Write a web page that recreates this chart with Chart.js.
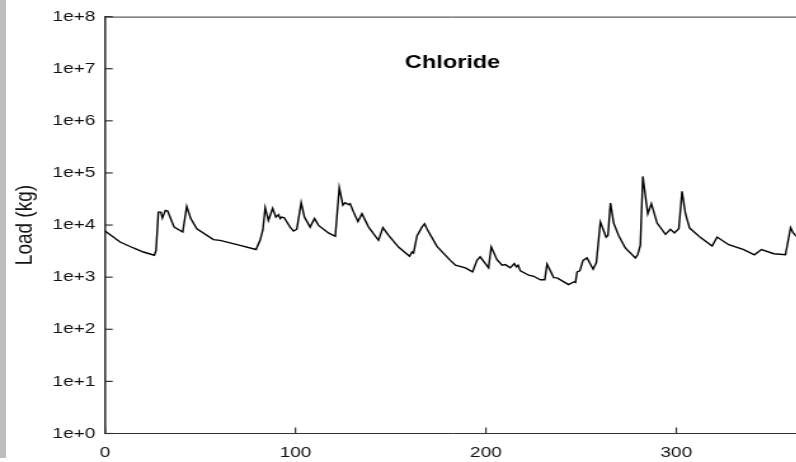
<!DOCTYPE html>
<html>
<head>
<meta charset="utf-8">
<script src="https://cdn.jsdelivr.net/npm/chart.js@4/dist/chart.umd.min.js"></script>
<style>
    html, body { margin: 0; padding: 0; background: #fff; overflow: hidden; }
    body { width: 796px; height: 462px; position: relative; }
    #stretch { position: absolute; left: 0; top: 0; width: 630px; height: 462px; transform: scaleX(1.27); transform-origin: 0 0; }
    #sidebar { position: absolute; left: 0; top: 0; width: 6px; height: 458px; background: #bdbdbd; z-index: 2; }
</style>
</head>
<body>
<div id="sidebar"></div>
<div id="stretch"><canvas id="loadChart" width="630" height="462"></canvas></div>
<script>
const chartTitle = "Chloride";
const yAxisTitle = "Load (kg)";

// day of year
const days = [0, 7.9, 14.9, 20.1, 25.9, 26.8, 28, 29.4, 30.1, 31.7, 32.9, 34.7, 36.3, 40.8, 42.9, 45, 48.2, 56.9, 60.4, 70.9,
    79.3, 81.4, 82.9, 84.1, 85.8, 88, 89.7, 91.1, 92, 92.8, 94.1, 97.2, 99, 100.7, 103, 104.7, 107.7, 110, 112.1, 117.3,
    120.9, 123, 124.9, 126.1, 127.9, 128.7, 130.5, 132.8, 134.9, 138.4, 143.6, 145.9, 148.9, 154.1, 159.9, 161.2, 162, 163.8, 166.4, 167.8,
    169, 174.3, 181.3, 184, 189.2, 193, 195.3, 197, 201.4, 202.8, 205.8, 208.5, 210.2, 212.8, 214.9, 216, 216.9, 218.1, 222.5, 225.1,
    228.6, 230.9, 232.1, 235.6, 237.4, 243.4, 246.1, 247, 247.9, 249.3, 251, 253.1, 256.3, 258, 260.1, 263.1, 264.1, 265.4, 267.1, 269.7,
    273.2, 278.5, 279.7, 281.1, 282.4, 285, 286.9, 289.9, 294.3, 296.9, 299, 301.3, 303, 304.8, 307, 312.7, 318.8, 321.4, 327.5, 335.4,
    341, 344.7, 351.2, 357.3, 360, 361.4, 363.1];

// chloride load, kg
const loads = [7700, 4720, 3630, 3040, 2630, 3270, 17700, 17700, 13600, 19100, 18600, 12600, 9130, 7340, 22800, 13300, 8510, 5250, 5090, 4080,
    3390, 5090, 8130, 21500, 12300, 21000, 14200, 15800, 13300, 14200, 13800, 9130, 7670, 8320, 26900, 14200, 9130, 13300, 9850, 7050,
    6070, 52100, 24000, 26900, 24600, 25700, 17700, 11700, 16500, 9130, 5090, 8920, 6330, 3780, 2520, 3040, 2900, 6160, 9130, 10600,
    8510, 3900, 2100, 1700, 1510, 1260, 2100, 2450, 1510, 3800, 2170, 1700, 1740, 1510, 1820, 1570, 1700, 1320, 1090, 1040,
    890, 890, 1770, 980, 970, 720, 810, 790, 1260, 1320, 2100, 2340, 1420, 1910, 11400, 5890, 6330, 26300, 10900, 6330,
    3630, 2340, 2690, 4080, 85800, 16500, 25700, 10900, 6630, 8270, 7050, 8510, 44300, 16500, 8750, 5740, 3960, 5890, 4200, 3390,
    2690, 3390, 2820, 2690, 8920, 7050, 6070];

const xTicks = [0, 100, 200, 300];
const yTicks = [1, 10, 100, 1000, 1e4, 1e5, 1e6, 1e7, 1e8];
const yTickLabels = ["1e+0", "1e+1", "1e+2", "1e+3", "1e+4", "1e+5", "1e+6", "1e+7", "1e+8"];

const points = days.map((d, i) => ({ x: d, y: loads[i] }));

// inward tick marks, top frame line and the title inside the plot
const framePlugin = {
    id: "frame",
    afterDraw(chart) {
        const { ctx, chartArea, scales } = chart;
        ctx.save();
        ctx.strokeStyle = "#333";
        ctx.lineWidth = 1;
        ctx.beginPath();
        ctx.moveTo(chartArea.left, chartArea.top + 0.5);
        ctx.lineTo(chartArea.right, chartArea.top + 0.5);
        ctx.stroke();

        ctx.lineWidth = 1.2;
        yTicks.forEach(v => {
            const y = scales.y.getPixelForValue(v);
            ctx.beginPath();
            ctx.moveTo(chartArea.left, y);
            ctx.lineTo(chartArea.left + 6, y);
            ctx.stroke();
        });
        xTicks.forEach(v => {
            const x = scales.x.getPixelForValue(v);
            ctx.beginPath();
            ctx.moveTo(x, chartArea.bottom);
            ctx.lineTo(x, chartArea.bottom - 6);
            ctx.stroke();
        });

        ctx.fillStyle = "#000";
        ctx.font = "bold 18.5px 'Liberation Sans', Arial, sans-serif";
        ctx.textAlign = "center";
        ctx.textBaseline = "middle";
        ctx.fillText(chartTitle, (chartArea.left + chartArea.right) / 2, 63);
        ctx.restore();
    }
};

const tickFont = { family: "'Liberation Sans', Arial, sans-serif", size: 15 };

new Chart(document.getElementById("loadChart"), {
    type: "line",
    data: {
        datasets: [{
            data: points,
            borderColor: "#000",
            borderWidth: 1.4,
            pointRadius: 0,
            tension: 0,
            fill: false
        }]
    },
    options: {
        responsive: false,
        animation: false,
        layout: { padding: { top: 15, left: 0, right: 0, bottom: 0 } },
        plugins: {
            legend: { display: false },
            tooltip: { enabled: false }
        },
        scales: {
            x: {
                type: "linear",
                min: 0,
                max: 365,
                grid: { display: false, drawTicks: false },
                border: { display: true, color: "#333", width: 1 },
                afterBuildTicks: scale => { scale.ticks = xTicks.map(v => ({ value: v })); },
                afterFit: scale => { scale.height = 28.5; },
                ticks: {
                    color: "#111",
                    font: tickFont,
                    padding: 10,
                    maxRotation: 0,
                    callback: v => String(v)
                }
            },
            y: {
                type: "logarithmic",
                min: 1,
                max: 1e8,
                grid: { display: false, drawTicks: false },
                border: { display: true, color: "#333", width: 1.6 },
                afterBuildTicks: scale => { scale.ticks = yTicks.map(v => ({ value: v })); },
                afterFit: scale => { scale.width = 82.7; },
                ticks: {
                    color: "#111",
                    font: tickFont,
                    padding: 7.6,
                    callback: v => yTickLabels[yTicks.indexOf(v)]
                },
                title: {
                    display: true,
                    text: yAxisTitle,
                    color: "#111",
                    font: { family: "'Liberation Sans', Arial, sans-serif", size: 19 },
                    padding: { top: 8.3, bottom: 0 }
                }
            }
        }
    },
    plugins: [framePlugin]
});
</script>
</body>
</html>
